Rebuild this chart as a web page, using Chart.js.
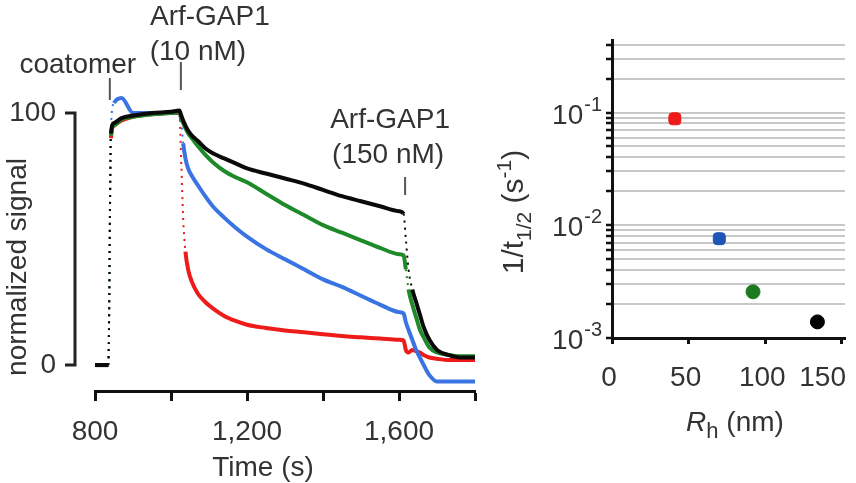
<!DOCTYPE html>
<html>
<head>
<meta charset="utf-8">
<script src="https://cdn.jsdelivr.net/npm/chart.js@4"></script>
<style>
  html, body { margin: 0; padding: 0; background: #fff; }
  #left { position: absolute; left: 0; top: 0; width: 490px; height: 483px; }
  #right { position: absolute; left: 480px; top: 0; width: 376px; height: 483px; }
</style>
</head>
<body>
<div id="left"><canvas id="signalChart"></canvas></div>
<div id="right"><canvas id="rateChart"></canvas></div>
<script>
const FONT = '"Liberation Sans", Arial, sans-serif';
const INK = '#333';

// left panel: normalized signal vs time (s)
const time = [800, 835, 842, 850, 870, 900, 950, 1000, 1022, 1027, 1032, 1038, 1045, 1055, 1070, 1090, 1110, 1140, 1170, 1200,
  1250, 1300, 1350, 1400, 1450, 1500, 1550, 1600, 1612, 1618, 1625, 1635, 1645, 1655, 1665, 1680, 1700, 1730, 1760, 1800];
const blackSignal = [0, 0, 92, 96, 98, 99, 100, 100.5, 101, 99, 97, 95, 93, 91, 89, 86, 84, 82, 80, 78,
  76, 74, 72, 69.5, 67, 65, 63, 61, 60, 50, 38, 30, 25, 20, 15, 10, 6, 4, 3, 3];
const greenSignal = [0, 0, 91, 95, 97.5, 98.5, 99.5, 100, 100.5, 98, 96, 94, 92, 90, 87, 83.5, 80.5, 77, 74.5, 72.5,
  68, 63.5, 59.5, 55.5, 52.5, 49.5, 46.5, 44, 43.5, 38, 30, 24, 19, 14, 11, 7, 5, 4, 3.5, 3.5];
const blueSignal = [0, 0, 95, 104, 106, 100, 100, 100, 100.5, 97, 88, 82, 78, 75, 71.5, 67, 63, 58.5, 54.5, 51,
  46, 42, 38, 34, 31, 27.5, 24, 21, 20.5, 17, 14, 10, 6, 3, 0, -4, -6.5, -6.5, -6.5, -6.5];
const redSignal = [0, 0, 90, 95, 97, 98.5, 99.5, 100, 100, 80, 58, 45, 38, 33, 28.5, 25, 22.5, 19.5, 17.5, 16,
  14.7, 13.7, 13, 12.2, 11.5, 11, 10.5, 10, 9.8, 6, 5, 6, 5.5, 5, 4, 3, 2.5, 2, 2, 2];
const timeTicks = [800, 1000, 1200, 1400, 1600, 1800];
const timeLabels = [800, 1200, 1600];
const signalTicks = [0, 100];
const eventTimes = [839, 1026, 1616];
const eventLabels = [['coatomer'], ['Arf-GAP1', '(10 nM)'], ['Arf-GAP1', '(150 nM)']];

// right panel: 1/t1/2 vs Rh
const rh = [41, 70, 92, 134];
const rate = [0.088, 0.0076, 0.00257, 0.00139];
const rhTicks = [0, 50, 100, 150];
const rateTicks = [0.001, 0.002, 0.003, 0.004, 0.005, 0.006, 0.007, 0.008, 0.009,
  0.01, 0.02, 0.03, 0.04, 0.05, 0.06, 0.07, 0.08, 0.09, 0.1, 0.2, 0.3, 0.4];
const rateDecades = [0.001, 0.01, 0.1];

const dotColors = ['#ef1a1a', '#1f55b5', '#1d7a22', '#000000'];
const dotStyles = ['rectRounded', 'rectRounded', 'circle', 'circle'];

function steep(ctx) {
  const dx = Math.abs(ctx.p1.x - ctx.p0.x);
  const dy = Math.abs(ctx.p1.y - ctx.p0.y);
  return dy > 20 && dy > 2 * dx;
}

function series(label, values, color) {
  return {
    label: label,
    data: time.map((t, i) => ({ x: t, y: values[i] })),
    borderColor: color,
    backgroundColor: color,
    borderWidth: 4,
    pointRadius: 0,
    cubicInterpolationMode: 'monotone',
    segment: {
      borderDash: ctx => steep(ctx) ? [2, 5] : undefined,
      borderWidth: ctx => steep(ctx) ? 2 : undefined
    }
  };
}

// fixed axis box, no extra side padding for overhanging labels
function fixBox(size) {
  return s => {
    if (s.isHorizontal()) s.height = size; else s.width = size;
    s.paddingLeft = 0;
    s.paddingRight = 0;
    s.paddingTop = 0;
    s.paddingBottom = 0;
  };
}

// draws pieces of text (sub/superscripts) centred on cx, baseline y
function drawRich(ctx, parts, cx, y) {
  let total = 0;
  parts.forEach(p => {
    ctx.font = `${p.italic ? 'italic ' : ''}${p.size}px ${FONT}`;
    p.w = ctx.measureText(p.text).width;
    total += p.w;
  });
  let x = cx - total / 2;
  ctx.textAlign = 'left';
  ctx.textBaseline = 'alphabetic';
  parts.forEach(p => {
    ctx.font = `${p.italic ? 'italic ' : ''}${p.size}px ${FONT}`;
    ctx.fillText(p.text, x, y + (p.dy || 0));
    x += p.w;
  });
}

const signalDecor = {
  id: 'signalDecor',
  afterDraw(chart) {
    const { ctx, chartArea } = chart;
    const x = chart.scales.x, y = chart.scales.y;
    const y0 = y.getPixelForValue(0), y1 = y.getPixelForValue(100);
    const bx = chartArea.left - 20;
    ctx.save();
    ctx.strokeStyle = '#222';
    ctx.lineWidth = 3;
    ctx.beginPath();
    ctx.moveTo(bx - 10, y1);
    ctx.lineTo(bx, y1);
    ctx.lineTo(bx, y0);
    ctx.lineTo(bx - 10, y0);
    ctx.stroke();

    ctx.fillStyle = INK;
    ctx.font = `28px ${FONT}`;
    ctx.textAlign = 'center';
    ctx.textBaseline = 'middle';
    // event markers: tick line + label
    const marks = [
      { top: 78, bottom: 100, text: [[-32, 65]] },
      { top: 62, bottom: 90, text: [[29, 17], [17, 52]] },
      { top: 177, bottom: 195, text: [[-15, 120], [-17, 155]] }
    ];
    ctx.lineWidth = 2;
    ctx.strokeStyle = '#555';
    eventTimes.forEach((t, i) => {
      const px = x.getPixelForValue(t);
      const m = marks[i];
      ctx.beginPath();
      ctx.moveTo(px, m.top);
      ctx.lineTo(px, m.bottom);
      ctx.stroke();
      eventLabels[i].forEach((line, j) => {
        ctx.fillText(line, px + m.text[j][0], m.text[j][1]);
      });
    });

    ctx.fillText('Time (s)', 263, 468);
    ctx.translate(18, 267);
    ctx.rotate(-Math.PI / 2);
    ctx.fillText('normalized signal', 0, 0);
    ctx.restore();
  }
};

const rateDecor = {
  id: 'rateDecor',
  afterDraw(chart) {
    const { ctx, chartArea } = chart;
    const x = chart.scales.x, y = chart.scales.y;
    ctx.save();
    ctx.fillStyle = INK;
    ctx.textBaseline = 'alphabetic';
    ctx.textAlign = 'right';
    rateDecades.forEach(v => {
      const py = y.getPixelForValue(v);
      const rx = chartArea.left - 10;
      const sup = '-' + Math.abs(Math.round(Math.log10(v)));
      ctx.font = `20px ${FONT}`;
      const sw = ctx.measureText(sup).width;
      ctx.fillText(sup, rx, py - 2);
      ctx.font = `28px ${FONT}`;
      ctx.fillText('10', rx - sw - 1, py + 11);
    });

    // x tick labels, kept inside the canvas at the right edge
    ctx.font = `28px ${FONT}`;
    ctx.textAlign = 'center';
    ctx.textBaseline = 'middle';
    const yLab = x.top + 40;
    rhTicks.forEach(v => {
      const label = String(v);
      const half = ctx.measureText(label).width / 2;
      const cx = Math.min(x.getPixelForValue(v) - 3, chart.width - 10 - half);
      ctx.fillText(label, cx, yLab);
    });

    drawRich(ctx, [
      { text: 'R', size: 28, italic: true },
      { text: 'h', size: 22, dy: 7 },
      { text: ' (nm)', size: 28 }
    ], 255, 431);

    ctx.translate(43, 212);
    ctx.rotate(-Math.PI / 2);
    drawRich(ctx, [
      { text: '1/t', size: 30 },
      { text: '1/2', size: 21, dy: 8 },
      { text: ' (s', size: 30 },
      { text: '-1', size: 21, dy: -12 },
      { text: ')', size: 30 }
    ], 0, 0);
    ctx.restore();
  }
};

new Chart(document.getElementById('signalChart'), {
  type: 'line',
  data: {
    datasets: [
      series('black', blackSignal, '#0a0a0a'),
      series('green', greenSignal, '#1f8a2a'),
      series('blue', blueSignal, '#3a74e2'),
      series('red', redSignal, '#ee1b1b')
    ]
  },
  options: {
    responsive: true,
    maintainAspectRatio: false,
    animation: false,
    layout: { padding: { left: 0, top: 80, right: 15, bottom: 0 }, autoPadding: false },
    plugins: { legend: { display: false }, tooltip: { enabled: false } },
    scales: {
      x: {
        type: 'linear',
        min: 800,
        max: 1800,
        afterBuildTicks: s => { s.ticks = timeTicks.map(v => ({ value: v })); },
        afterFit: fixBox(92),
        border: { color: '#111', width: 3 },
        grid: { drawOnChartArea: false, tickLength: 10, tickWidth: 3, tickColor: '#111' },
        ticks: {
          autoSkip: false,
          maxRotation: 0,
          padding: 14,
          color: INK,
          font: { family: FONT, size: 28 },
          callback: v => timeLabels.includes(v) ? v.toLocaleString('en-US') : ''
        }
      },
      y: {
        min: -10.3,
        max: 113.1,
        afterBuildTicks: s => { s.ticks = signalTicks.map(v => ({ value: v })); },
        afterFit: fixBox(95),
        border: { display: false },
        grid: { display: false, drawTicks: false },
        ticks: { padding: 39, color: INK, font: { family: FONT, size: 28 } }
      }
    }
  },
  plugins: [signalDecor]
});

new Chart(document.getElementById('rateChart'), {
  type: 'scatter',
  data: {
    datasets: [{
      data: rh.map((r, i) => ({ x: r, y: rate[i] })),
      pointBackgroundColor: dotColors,
      pointBorderColor: dotColors,
      pointStyle: dotStyles,
      pointRadius: 7
    }]
  },
  options: {
    responsive: true,
    maintainAspectRatio: false,
    animation: false,
    layout: { padding: { left: 0, top: 40, right: 11, bottom: 0 }, autoPadding: false },
    plugins: { legend: { display: false }, tooltip: { enabled: false } },
    scales: {
      x: {
        type: 'linear',
        min: 0,
        max: 152,
        afterBuildTicks: s => { s.ticks = rhTicks.map(v => ({ value: v })); },
        afterFit: fixBox(145),
        border: { color: '#111', width: 3 },
        grid: { drawOnChartArea: false, tickLength: 6, tickWidth: 3, tickColor: '#111' },
        ticks: { display: false }
      },
      y: {
        type: 'logarithmic',
        min: 0.001,
        max: 0.44,
        afterBuildTicks: s => { s.ticks = rateTicks.map(v => ({ value: v })); },
        afterFit: fixBox(132),
        border: { color: '#111', width: 3 },
        grid: { color: '#c8c8c8', lineWidth: 2, tickLength: 6, tickWidth: 2.5, tickColor: '#111' },
        ticks: { display: false }
      }
    }
  },
  plugins: [rateDecor]
});
</script>
</body>
</html>
